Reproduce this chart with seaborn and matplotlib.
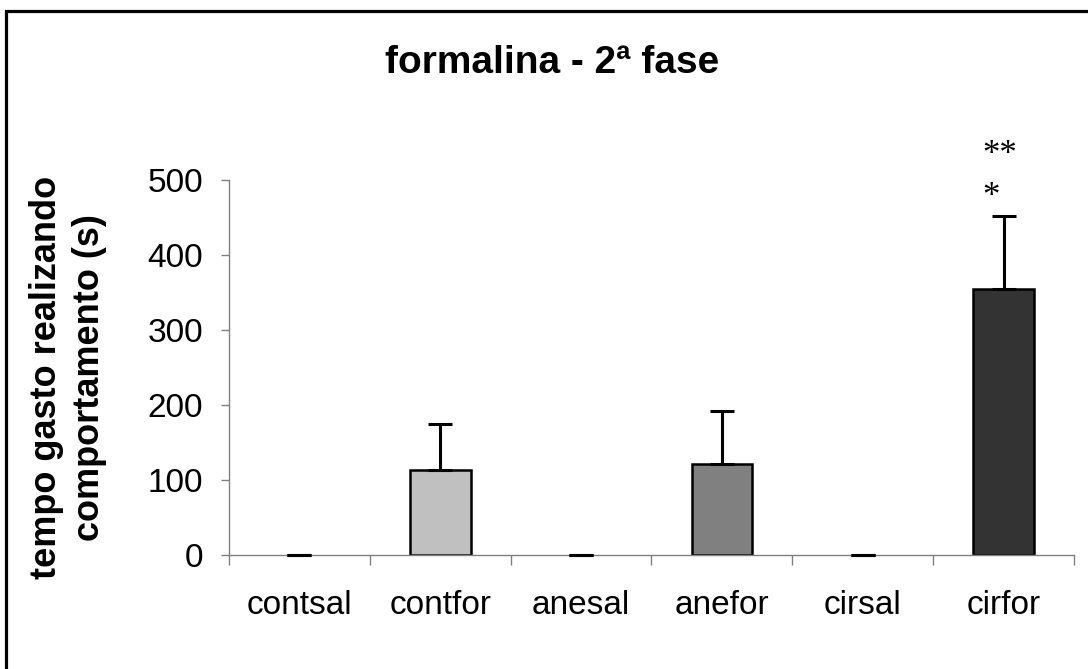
import seaborn as sns
import matplotlib.pyplot as plt
import pandas as pd
from matplotlib.patches import Rectangle

# -----------------------------
# Data
# -----------------------------
groups = ["contsal", "contfor", "anesal", "anefor", "cirsal", "cirfor"]
means = [0, 113, 0, 122, 0, 355]
sem = [0, 62, 0, 70, 0, 97]
bar_colors = ["#FFFFFF", "#C0C0C0", "#FFFFFF", "#808080", "#FFFFFF", "#333333"]
yticks = [0, 100, 200, 300, 400, 500]

df = pd.DataFrame({"grupo": groups, "tempo": means})

# -----------------------------
# Visualization
# -----------------------------
sns.set_style("white")
plt.rcParams["font.family"] = ["Liberation Sans", "DejaVu Sans"]
plt.rcParams["text.color"] = "black"
plt.rcParams["axes.labelcolor"] = "black"

fig = plt.figure(figsize=(10.88, 6.69), dpi=100)
ax = fig.add_axes([229 / 1088, 1 - 555 / 669, (1074 - 229) / 1088, (555 - 180) / 669])

sns.barplot(
    data=df, x="grupo", y="tempo", hue="grupo", palette=bar_colors,
    legend=False, width=0.43, edgecolor="black", linewidth=1.8,
    errorbar=None, ax=ax,
)
# zero-height bars show no outline in the original
for p in ax.patches:
    if p.get_height() == 0:
        p.set_linewidth(0)

# one-sided (upper) error bars
ax.errorbar(
    range(len(groups)), means, yerr=[[0] * len(groups), sem],
    fmt="none", ecolor="black", elinewidth=2.2, capsize=8.3, capthick=2.2,
    zorder=3, clip_on=False,
)

ax.set_xlim(-0.5, len(groups) - 0.5)
ax.set_ylim(0, 500)
ax.set_yticks(yticks)

sns.despine(ax=ax)
for side in ["left", "bottom"]:
    ax.spines[side].set_color("#808080")
    ax.spines[side].set_linewidth(1.0)

ax.tick_params(axis="y", which="major", left=True, direction="out", length=5.8,
               width=1.0, color="#808080", pad=13, labelsize=24, labelcolor="black")
ax.tick_params(axis="x", which="major", bottom=True, length=0, pad=25,
               labelsize=24, labelcolor="black")
ax.set_xticks([i - 0.5 for i in range(len(groups) + 1)], minor=True)
ax.tick_params(axis="x", which="minor", bottom=True, direction="out", length=7,
               width=1.0, color="#808080")

ax.set_xlabel("")
ax.set_ylabel("tempo gasto realizando\ncomportamento (s)", fontsize=26,
              fontweight="bold", linespacing=1.3)
ax.yaxis.set_label_coords(-0.19, 0.473)
ax.yaxis.label.set_verticalalignment("center")

fig.suptitle("formalina - 2ª fase", x=552.5 / 1088, y=1 - 45 / 669,
             va="top", fontsize=28, fontweight="bold")

# significance marks above cirfor
ax.text(4.85, 521, "**", fontsize=25, family="Liberation Serif",
        ha="left", va="baseline", clip_on=False)
ax.text(4.85, 465, "*", fontsize=25, family="Liberation Serif",
        ha="left", va="baseline", clip_on=False)

# outer frame (cut off on the right and bottom in the original)
fig.add_artist(Rectangle((5.5 / 1088, -0.1), 2, 1 - 11.5 / 669 + 0.1,
                         transform=fig.transFigure, fill=False,
                         edgecolor="black", linewidth=2.3))

fig.savefig("out.png", dpi=100)
plt.close(fig)
